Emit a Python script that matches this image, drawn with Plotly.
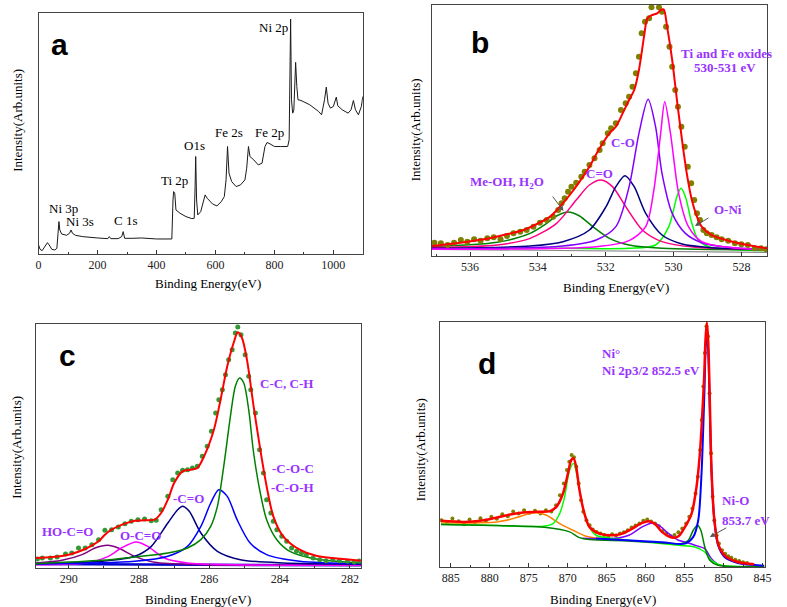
import plotly.graph_objects as go

W, H = 787, 607

# ---------------- Panel a: survey spectrum ----------------
a_ev = [0, 5, 12, 22, 30, 36, 45, 55, 62, 66, 69, 72, 78, 95, 105, 110, 115, 125, 150, 200,
        235, 240, 245, 270, 282, 287, 292, 320, 350, 400, 440, 452, 456, 458, 462, 466, 480,
        500, 520, 528, 531, 533, 536, 540, 550, 560, 565, 572, 590, 605, 620, 630, 636, 641,
        646, 655, 670, 685, 700, 706, 712, 717, 730, 745, 758, 768, 775, 785, 800, 820, 845,
        850, 852, 855, 858, 862, 866, 870, 872, 876, 880, 890, 920, 950, 960, 970, 976, 982,
        990, 1000, 1010, 1015, 1030, 1050, 1060, 1068, 1075, 1085, 1095, 1100]
a_int = [27, 14, 10, 22, 34, 27, 14, 12, 17, 62, 97, 72, 60, 56, 62, 72, 62, 56, 52, 48,
         46, 52, 46, 46, 52, 67, 47, 47, 48, 45, 44, 45, 162, 187, 182, 132, 122,
         112, 106, 107, 202, 292, 162, 117, 127, 162, 177, 167, 150, 144, 157, 172, 222, 322,
         242, 217, 202, 207, 222, 257, 322, 292, 282, 267, 272, 322, 334, 330, 322, 322, 322,
         342, 562, 704, 462, 422, 432, 512, 574, 502, 462, 460, 447, 427, 417, 462, 500, 452,
         437, 442, 470, 444, 432, 422, 432, 460, 432, 417, 442, 472]
a_labels = ["Ni 2p", "Fe 2s", "Fe 2p", "O1s", "Ti 2p", "Ni 3p", "Ni 3s", "C 1s"]

# ---------------- Panel b: O 1s ----------------
b_fit_ev = [537.12, 536.66, 536.18, 535.59, 535.01, 534.42, 534.03, 533.64, 533.35, 533.06, 532.77,
            532.48, 532.18, 531.89, 531.70, 531.50, 531.31, 531.16, 531.02, 530.87, 530.77, 530.63,
            530.48, 530.38, 530.29, 530.19, 530.04, 529.90, 529.75, 529.61, 529.46, 529.31, 529.17,
            528.88, 528.39, 527.81, 527.24]
b_fit_int = [30, 35, 41, 50, 63, 78, 96, 118, 148, 183, 223, 268, 323, 368, 388, 428, 468, 498, 558,
             658, 713, 723, 728, 738, 740, 688, 588, 468, 348, 248, 168, 118, 88, 63, 46, 33, 23]
b_dot_ev = [537.05, 536.86, 536.66, 536.47, 536.27, 536.08, 535.88, 535.69, 535.49, 535.30, 535.10,
            534.91, 534.72, 534.52, 534.33, 534.13, 533.94, 533.74, 533.55, 533.40, 533.30, 533.21,
            533.11, 533.01, 532.87, 532.72, 532.62, 532.48, 532.33, 532.18, 532.09, 531.94, 531.84,
            531.70, 531.55, 531.41, 531.31, 531.21, 531.11, 531.02, 530.94, 530.84, 530.72, 530.65,
            530.43, 530.34, 530.22, 530.12, 530.04, 529.95, 529.87, 529.77, 529.67, 529.58, 529.48,
            529.39, 529.31, 529.22, 529.12, 529.02, 528.88, 528.73, 528.58, 528.39, 528.19, 528.00,
            527.81, 527.61, 527.42, 527.27]
b_dot_int = [40, 38, 33, 40, 48, 43, 50, 46, 53, 56, 50, 60, 68, 73, 78, 88, 100, 108, 118, 138, 158,
             173, 193, 208, 220, 238, 253, 273, 293, 318, 338, 368, 383, 398, 438, 458, 478, 508, 548,
             598, 668, 703, 713, 746, 746, 733, 688, 628, 568, 498, 448, 388, 328, 268, 218, 168, 128,
             108, 78, 68, 63, 56, 50, 46, 38, 35, 33, 23, 23, 20]
b_meoh_ev = [537.12, 535.20, 534.23, 533.74, 533.45, 533.11, 532.77, 532.38, 531.89, 531.31, 530.34, 527.24]
b_meoh_int = [28, 41, 68, 98, 120, 132, 120, 88, 53, 33, 23, 18]
b_c2o_ev = [537.12, 535.20, 534.23, 533.45, 532.87, 532.48, 532.14, 531.80, 531.41, 530.92, 530.34, 529.36, 527.24]
b_c2o_int = [26, 33, 53, 98, 168, 213, 228, 208, 148, 78, 43, 26, 20]
b_co_ev = [537.12, 534.23, 533.26, 532.48, 531.99, 531.70, 531.43, 531.16, 530.82, 530.34, 529.75, 528.88, 527.24]
b_co_int = [23, 30, 43, 78, 148, 208, 241, 208, 128, 63, 36, 25, 20]
b_ox1_ev = [537.12, 533.26, 532.28, 531.70, 531.31, 531.02, 530.75, 530.53, 530.34, 530.04, 529.65, 529.17, 528.39, 527.24]
b_ox1_int = [22, 30, 48, 88, 208, 368, 470, 388, 248, 128, 68, 40, 26, 20]
b_ox2_ev = [537.12, 532.28, 531.31, 530.82, 530.58, 530.38, 530.26, 530.09, 529.85, 529.56, 529.17, 528.39, 527.24]
b_ox2_int = [20, 28, 46, 88, 198, 368, 463, 368, 188, 88, 43, 26, 18]
b_oni_ev = [537.12, 533.26, 531.31, 530.53, 530.14, 529.90, 529.78, 529.65, 529.46, 529.27, 528.97, 528.39, 527.24]
b_oni_int = [24, 23, 23, 33, 88, 178, 203, 178, 98, 48, 28, 20, 16]
b_bg_ev = [537.12, 527.24]
b_bg_int = [20, 11]

# ---------------- Panel c: C 1s ----------------
c_fit_ev = [290.94, 290.47, 290.00, 289.53, 289.15, 288.97, 288.78, 288.40, 288.12, 287.84, 287.56,
            287.37, 287.18, 287.00, 286.76, 286.53, 286.34, 286.15, 285.87, 285.68, 285.49, 285.31,
            285.19, 285.07, 284.93, 284.74, 284.55, 284.37, 284.18, 283.90, 283.43, 282.96, 282.49, 281.69]
c_fit_int = [30, 33, 40, 57, 80, 100, 115, 133, 142, 143, 145, 165, 205, 255, 290, 295, 300, 335, 415,
             505, 605, 675, 707, 690, 625, 485, 355, 245, 155, 95, 55, 37, 30, 22]
c_dot_ev = [290.89, 290.75, 290.52, 290.33, 290.09, 289.91, 289.72, 289.53, 289.34, 289.15, 288.97,
            288.78, 288.59, 288.40, 288.22, 288.03, 287.84, 287.65, 287.51, 287.37, 287.18, 287.04,
            286.90, 286.76, 286.62, 286.48, 286.34, 286.20, 286.06, 285.94, 285.82, 285.73, 285.63,
            285.54, 285.45, 285.35, 285.26, 285.19, 285.10, 284.98, 284.88, 284.82, 284.69, 284.57,
            284.46, 284.37, 284.25, 284.18, 284.08, 283.94, 283.80, 283.66, 283.52, 283.38, 283.24,
            283.05, 282.86, 282.68, 282.49, 282.30, 282.07, 281.88, 281.74]
c_dot_int = [27, 30, 30, 33, 42, 45, 60, 60, 70, 85, 113, 115, 123, 133, 140, 145, 147, 142, 143, 175,
             215, 265, 285, 293, 295, 300, 305, 335, 365, 410, 465, 505, 535, 580, 625, 655, 705, 723,
             700, 640, 575, 535, 465, 355, 285, 205, 165, 140, 115, 95, 80, 60, 50, 45, 40, 30, 25, 22,
             25, 22, 20, 18, 21]
c_cc_ev = [290.94, 289.06, 288.12, 287.18, 286.62, 286.24, 285.96, 285.77, 285.59, 285.40, 285.26,
           285.14, 285.02, 284.88, 284.74, 284.55, 284.37, 284.08, 283.71, 282.96, 281.69]
c_cc_int = [13, 23, 33, 45, 60, 85, 125, 185, 305, 455, 545, 570, 555, 475, 345, 225, 145, 85, 50, 27, 15]
c_coc_ev = [290.94, 288.12, 287.18, 286.62, 286.24, 285.96, 285.73, 285.49, 285.21, 284.84, 284.37, 283.43, 281.69]
c_coc_int = [12, 20, 35, 65, 125, 195, 235, 215, 145, 75, 40, 20, 13]
c_c2o_ev = [290.94, 289.06, 288.12, 287.65, 287.18, 286.90, 286.76, 286.57, 286.24, 285.77, 285.12, 283.90, 281.69]
c_c2o_int = [12, 20, 35, 65, 135, 175, 185, 170, 105, 50, 25, 15, 12]
c_oco_ev = [290.94, 289.53, 288.87, 288.50, 288.08, 287.75, 287.28, 286.62, 285.31, 281.69]
c_oco_int = [10, 15, 35, 60, 78, 65, 30, 15, 10, 8]
c_hoco_ev = [290.94, 290.19, 289.62, 289.25, 288.89, 288.59, 288.12, 287.56, 286.24, 281.69]
c_hoco_int = [15, 23, 40, 60, 68, 60, 35, 17, 10, 8]
c_bg_ev = [290.94, 281.69]
c_bg_int = [12, 8]

# ---------------- Panel d: Ni 2p ----------------
d_fit_ev = [886.27, 883.31, 880.77, 879.07, 877.38, 875.69, 873.57, 872.30, 871.46, 870.61, 869.97,
            869.55, 869.25, 868.92, 868.49, 867.86, 867.22, 865.95, 864.26, 862.99, 861.72, 860.45,
            859.60, 858.76, 857.91, 856.64, 855.79, 854.95, 854.10, 853.47, 853.04, 852.75, 852.49,
            852.32, 852.15, 851.98, 851.77, 851.56, 851.22, 850.71, 849.87, 848.17, 846.06]
d_fit_int = [138, 135, 140, 148, 157, 163, 165, 167, 180, 220, 280, 320, 325, 300, 230, 160, 120, 100,
             95, 100, 115, 132, 137, 128, 105, 88, 92, 120, 160, 240, 340, 450, 570, 680, 732, 680,
             500, 300, 150, 70, 35, 15, 8]
d_dot_ev = [886.2, 885.5, 884.8, 884.0, 883.3, 882.6, 881.9, 881.2, 880.5, 879.8, 879.1, 878.4, 877.7,
            877.0, 876.3, 875.6, 874.9, 874.2, 873.5, 872.8, 872.1, 871.5, 871.0, 870.5, 870.1, 869.8,
            869.5, 869.2, 868.9, 868.6, 868.3, 868.0, 867.6, 867.2, 866.8, 866.3, 865.8, 865.3, 864.8,
            864.3, 863.8, 863.3, 862.8, 862.3, 861.8, 861.3, 860.8, 860.3, 859.8, 859.3, 858.8, 858.3,
            857.8, 857.3, 856.8, 856.3, 855.8, 855.3, 854.8, 854.4, 854.0, 853.6, 853.3, 853.0, 852.8,
            852.6, 852.4, 852.2, 852.0, 851.8, 851.6, 851.4, 851.2, 850.9, 850.6, 850.2, 849.8, 849.4,
            849.0, 848.5, 848.0, 847.5, 847.0]
d_dot_int = [140, 132, 145, 137, 128, 142, 135, 146, 138, 150, 144, 158, 152, 166, 160, 170, 162, 168,
             160, 170, 166, 185, 215, 250, 290, 315, 335, 328, 300, 250, 200, 165, 140, 125, 112, 105,
             100, 96, 90, 98, 94, 100, 104, 110, 118, 124, 130, 138, 142, 136, 130, 122, 108, 100, 92,
             96, 104, 115, 130, 150, 175, 220, 270, 350, 440, 540, 640, 720, 690, 520, 340, 210, 140,
             95, 70, 50, 40, 32, 28, 22, 18, 14, 12]
d_sat1_ev = [886.27, 879.07, 873.15, 871.88, 871.03, 870.40, 869.76, 869.25, 868.70, 868.07, 867.22,
             866.38, 864.26, 860.03, 855.79, 853.68, 852.41, 851.56, 850.29, 844.79]
d_sat1_int = [128, 124, 122, 130, 160, 210, 290, 310, 260, 180, 120, 95, 85, 75, 65, 60, 45, 20, 5, 2]
d_sat2_ev = [886.27, 879.07, 876.96, 874.84, 873.99, 872.72, 871.03, 869.34, 867.65, 865.53, 862.99]
d_sat2_int = [132, 135, 145, 160, 162, 155, 130, 110, 92, 85, 82]
d_nio_ev = [886.27, 879.07, 872.72, 869.76, 868.49, 867.22, 862.14, 857.91, 855.37, 854.52, 853.89,
            853.34, 852.92, 852.41, 851.77, 850.71, 844.79]
d_nio_int = [127, 124, 118, 105, 88, 82, 78, 72, 70, 80, 110, 125, 110, 60, 20, 5, 2]
d_sat3_ev = [868.07, 864.26, 862.14, 860.45, 859.18, 858.33, 857.06, 855.79, 854.52, 853.25, 852.41, 851.56, 850.71]
d_sat3_int = [86, 85, 95, 120, 132, 125, 100, 80, 72, 62, 55, 25, 7]
d_ni_ev = [866.38, 857.91, 854.95, 853.89, 853.25, 852.83, 852.49, 852.20, 851.98, 851.77, 851.56,
           851.22, 850.71, 849.87, 848.17, 844.79]
d_ni_int = [85, 74, 70, 90, 140, 280, 500, 700, 650, 470, 290, 150, 65, 30, 12, 4]

# ---------------- figure ----------------
SERIF = "Liberation Serif"
SANS = "Liberation Sans"
PURPLE = "#9933FF"

fig = go.Figure()


def add_line(ax, x, y, color, width=1.5, shape="spline"):
    fig.add_trace(go.Scatter(x=x, y=y, mode="lines", xaxis="x" + ax, yaxis="y" + ax,
                             line=dict(color=color, width=width, shape=shape, smoothing=0.8),
                             showlegend=False, hoverinfo="skip"))


def add_dots(ax, x, y, color, size):
    fig.add_trace(go.Scatter(x=x, y=y, mode="markers", xaxis="x" + ax, yaxis="y" + ax,
                             marker=dict(color=color, size=size), showlegend=False, hoverinfo="skip"))


# panel a
add_line("", a_ev, a_int, "#1a1a1a", 1.0, "linear")

# panel b
add_line("2", b_bg_ev, b_bg_int, "#888888", 1.2)
add_line("2", b_oni_ev, b_oni_int, "#00FF00", 1.5)
add_line("2", b_meoh_ev, b_meoh_int, "#008000", 1.5)
add_line("2", b_c2o_ev, b_c2o_int, "#FF0080", 1.5)
add_line("2", b_co_ev, b_co_int, "#000080", 1.5)
add_line("2", b_ox1_ev, b_ox1_int, "#8000FF", 1.5)
add_line("2", b_ox2_ev, b_ox2_int, "#FF00FF", 1.5)
add_dots("2", b_dot_ev, b_dot_int, "#808000", 6)
add_line("2", b_fit_ev, b_fit_int, "#FF0000", 2.0)

# panel c
add_line("3", c_bg_ev, c_bg_int, "#0000CD", 2.5)
add_line("3", c_hoco_ev, c_hoco_int, "#800080", 1.5)
add_line("3", c_oco_ev, c_oco_int, "#FF00FF", 1.5)
add_line("3", c_c2o_ev, c_c2o_int, "#000080", 1.5)
add_line("3", c_coc_ev, c_coc_int, "#0000FF", 1.5)
add_line("3", c_cc_ev, c_cc_int, "#008000", 1.5)
add_dots("3", c_dot_ev, c_dot_int, "#339933", 5)
add_line("3", c_fit_ev, c_fit_int, "#FF0000", 2.0)

# panel d
add_dots("4", d_dot_ev, d_dot_int, "#808000", 4)
add_line("4", d_sat2_ev, d_sat2_int, "#FF8000", 1.5)
add_line("4", d_sat3_ev, d_sat3_int, "#8000FF", 1.5)
add_line("4", d_sat1_ev, d_sat1_int, "#00FF00", 1.5)
add_line("4", d_nio_ev, d_nio_int, "#008000", 1.5)
add_line("4", d_ni_ev, d_ni_int, "#0000FF", 2.0)
add_line("4", d_fit_ev, d_fit_int, "#FF0000", 2.5)


def px(x0, x1):
    return [x0 / W, x1 / W]


def py(y0, y1):
    return [1 - y1 / H, 1 - y0 / H]


def xax(domain, rng, dtick, minor, anchor):
    return dict(domain=domain, range=rng, anchor=anchor, dtick=dtick, ticks="inside", ticklen=4,
                tickwidth=1, tickcolor="#333333", showline=True, linecolor="#444444", linewidth=1,
                mirror=True, showgrid=False, zeroline=False,
                tickfont=dict(family=SERIF, size=12, color="#222222"),
                minor=dict(dtick=minor, ticks="inside", ticklen=2, tickcolor="#333333"))


def yax(domain, rng, anchor):
    return dict(domain=domain, range=rng, anchor=anchor, showticklabels=False, ticks="",
                showline=True, linecolor="#444444", linewidth=1, mirror=True,
                showgrid=False, zeroline=False)


fig.update_layout(
    width=W, height=H, margin=dict(l=0, r=0, t=0, b=0),
    paper_bgcolor="white", plot_bgcolor="white",
    xaxis=xax(px(36, 364), [0, 1100], 200, 100, "y"),
    yaxis=yax(py(13, 254), [0, 722], "x"),
    xaxis2=xax(px(434, 773), [537.12, 527.24], 2, 1, "y2"),
    yaxis2=yax(py(5, 256), [0, 753], "x2"),
    xaxis3=xax(px(33, 362), [290.94, 281.69], 2, 1, "y3"),
    yaxis3=yax(py(324, 568), [0, 732], "x3"),
    xaxis4=xax(px(442, 771), [886.4, 844.66], 5, 2.5, "y4"),
    yaxis4=yax(py(322, 567), [0, 733], "x4"),
)

anns = []


def text(x, y, s, size=13, color="black", family=SERIF, bold=False, xanchor="center", angle=0):
    if bold:
        s = "<b>" + s + "</b>"
    anns.append(dict(x=x / W, y=1 - y / H, xref="paper", yref="paper", text=s, showarrow=False,
                     xanchor=xanchor, yanchor="middle", textangle=angle,
                     font=dict(family=family, size=size, color=color)))


def arrow(x0, y0, x1, y1):
    anns.append(dict(x=x1 / W, y=1 - y1 / H, xref="paper", yref="paper", ax=x0 - x1, ay=y0 - y1,
                     axref="pixel", ayref="pixel", text="", showarrow=True, arrowhead=2,
                     arrowsize=1, arrowwidth=1, arrowcolor="#555555"))


# panel letters
for s, x, y in [("a", 57, 45), ("b", 483, 42), ("c", 65, 355), ("d", 490, 363)]:
    text(x, y, s, size=30, family=SANS, bold=True)

# axis titles
for x, y in [(207, 283), (620, 287), (197, 599), (607, 599)]:
    text(x, y, "Binding Energy(eV)", size=13)
for x, y in [(15, 120), (417, 130), (13, 447), (422, 450)]:
    text(x, y, "Intensity(Arb.units)", size=13, angle=-90)

# panel a labels
for s, x, y in zip(a_labels, [274, 229, 270, 194, 173, 61, 78, 124], [28, 132, 132, 145, 180, 208, 222, 220]):
    text(x, y, s, size=13)

# panel b labels
text(732, 53, "Ti and Fe oxides", color=PURPLE, bold=True)
text(730, 68, "530-531 eV", color=PURPLE, bold=True)
text(627, 143, "C-O", color=PURPLE, bold=True)
text(603, 173, "C=O", color=PURPLE, bold=True)
text(510, 182, "Me-OH, H<sub>2</sub>O", color=PURPLE, bold=True)
text(733, 209, "O-Ni", color=PURPLE, bold=True)
arrow(555, 195, 567, 211)
arrow(715, 217, 700, 226)

# panel c labels
text(287, 384, "C-C, C-H", color=PURPLE, bold=True)
text(293, 468, "-C-O-C", color=PURPLE, bold=True)
text(293, 487, "-C-O-H", color=PURPLE, bold=True)
text(188, 498, "-C=O", color=PURPLE, bold=True)
text(139, 535, "O-C=O", color=PURPLE, bold=True)
text(65, 531, "HO-C=O", color=PURPLE, bold=True)

# panel d labels
text(604, 353, "Ni°", color=PURPLE, bold=True, xanchor="left")
text(604, 370, "Ni 2p3/2 852.5 eV", color=PURPLE, bold=True, xanchor="left")
text(725, 500, "Ni-O", color=PURPLE, bold=True, xanchor="left")
text(725, 520, "853.7 eV", color=PURPLE, bold=True, xanchor="left")
arrow(733, 527, 715, 537)

fig.update_layout(annotations=anns)
fig.write_html("out.html", config={"displayModeBar": False},
               post_script="document.body.style.margin='0';document.body.style.overflow='hidden';")
